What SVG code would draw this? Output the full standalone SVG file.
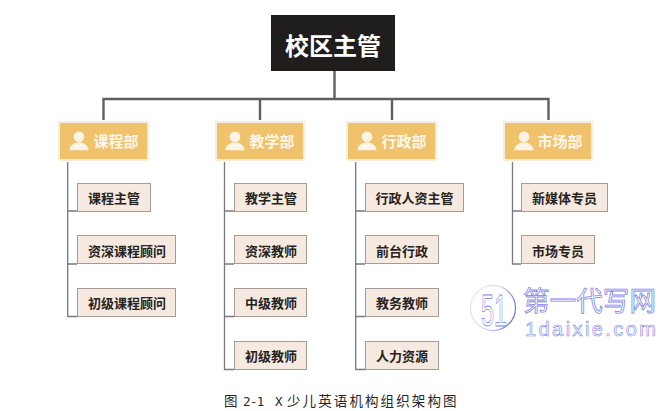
<svg xmlns="http://www.w3.org/2000/svg" width="672" height="411" viewBox="0 0 672 411">
<defs>
<linearGradient id="ring" x1="0" y1="0" x2="1" y2="0.3"><stop offset="0" stop-color="#e4e5fa"/><stop offset=".55" stop-color="#d5d6f7"/><stop offset="1" stop-color="#6f73e2"/></linearGradient>
<style>
text{font-family:"Noto Sans CJK SC","Liberation Sans",sans-serif}
.dept rect{fill:#efc26b;stroke:#f9ece0;stroke-width:2}
.dept text{fill:#fdf6ea;font-size:15px;font-weight:700;text-anchor:middle}
.sub rect{fill:#f6e9df;stroke:#a39c96;stroke-width:1}
.sub text{fill:#262422;font-size:13px;font-weight:700;text-anchor:middle}
.trunk{fill:none;stroke:#5f5f5f;stroke-width:2.4}
.spine{fill:none;stroke:#7c7a78;stroke-width:1.3}
.wm{fill:#fff;stroke:#8084e6;stroke-width:.8}
.cap{font-size:13.5px;fill:#262626;letter-spacing:2.1px}
</style>
<g id="user"><circle cx="0" cy="-4.2" r="5.4" fill="#fdf4e6"/><path d="M-9.5 9.2C-9.5 4.5-5.5 3-2.8 1.5L2.8 1.5C5.5 3 9.5 4.5 9.5 9.2Z" fill="#fdf4e6"/></g>
</defs>
<rect width="672" height="411" fill="#fff"/>
<g id="connectors">
<path class="trunk" d="M334.5 71V99M103.5 120V99H548.5V120M260 99V120M392 99V120"/>
<path class="spine" d="M67.7 162V316.5H77M67.7 211H77M67.7 264H77"/>
<path class="spine" d="M224.5 162V369.5H234M224.5 211H234M224.5 264H234M224.5 316.5H234"/>
<path class="spine" d="M355.7 162V369.5H365M355.7 211H365M355.7 264H365M355.7 316.5H365"/>
<path class="spine" d="M512.5 162V264H521M512.5 211H521"/>
</g>
<g id="root"><rect x="271" y="15" width="124" height="56" fill="#1f1e1d"/><text x="333" y="54.500" font-size="24" font-weight="700" fill="#fff" text-anchor="middle">校区主管</text></g>
<g id="dept-1" class="dept"><rect x="59" y="122" width="89" height="38"/><use href="#user" x="79" y="141"/><text x="116" y="147">课程部</text></g>
<g id="dept-2" class="dept"><rect x="216" y="122" width="88" height="38"/><use href="#user" x="235" y="141"/><text x="272" y="147">教学部</text></g>
<g id="dept-3" class="dept"><rect x="347" y="122" width="89" height="38"/><use href="#user" x="367" y="141"/><text x="404" y="147">行政部</text></g>
<g id="dept-4" class="dept"><rect x="504" y="122" width="88" height="38"/><use href="#user" x="524" y="141"/><text x="560" y="147">市场部</text></g>
<g id="sub-1-1" class="sub"><rect x="77.5" y="183.5" width="73" height="28"/><text x="114" y="203">课程主管</text></g>
<g id="sub-1-2" class="sub"><rect x="77.5" y="235.5" width="98" height="28"/><text x="127" y="256">资深课程顾问</text></g>
<g id="sub-1-3" class="sub"><rect x="77.5" y="288.5" width="98" height="28"/><text x="127" y="308">初级课程顾问</text></g>
<g id="sub-2-1" class="sub"><rect x="234.5" y="183.5" width="72" height="28"/><text x="271" y="203">教学主管</text></g>
<g id="sub-2-2" class="sub"><rect x="234.5" y="235.5" width="72" height="28"/><text x="271" y="256">资深教师</text></g>
<g id="sub-2-3" class="sub"><rect x="234.5" y="288.5" width="72" height="28"/><text x="271" y="308">中级教师</text></g>
<g id="sub-2-4" class="sub"><rect x="234.5" y="341.5" width="72" height="28"/><text x="271" y="361">初级教师</text></g>
<g id="sub-3-1" class="sub"><rect x="365.5" y="183.5" width="98" height="28"/><text x="414.5" y="203">行政人资主管</text></g>
<g id="sub-3-2" class="sub"><rect x="365.5" y="235.5" width="73" height="28"/><text x="402" y="256">前台行政</text></g>
<g id="sub-3-3" class="sub"><rect x="365.5" y="288.5" width="73" height="28"/><text x="402" y="308">教务教师</text></g>
<g id="sub-3-4" class="sub"><rect x="365.5" y="341.5" width="73" height="28"/><text x="402" y="361">人力资源</text></g>
<g id="sub-4-1" class="sub"><rect x="521.5" y="183.5" width="86" height="28"/><text x="564.5" y="203">新媒体专员</text></g>
<g id="sub-4-2" class="sub"><rect x="521.5" y="235.5" width="73" height="28"/><text x="558" y="256">市场专员</text></g>
<g id="watermark">
<circle cx="493" cy="308" r="22.5" fill="#fff" stroke="url(#ring)" stroke-width="1.2"/>
<text class="wm" x="494" y="326" font-size="44" text-anchor="middle" textLength="26" lengthAdjust="spacingAndGlyphs" style="font-family:'Liberation Sans',sans-serif">51</text>
<text class="wm" x="523" y="311" font-size="27" textLength="133" lengthAdjust="spacingAndGlyphs">第一代写网</text>
<text class="wm" x="525" y="336" font-size="20" textLength="131" lengthAdjust="spacing" style="font-family:'Liberation Sans',sans-serif;stroke-width:.6">1daixie.com</text>
</g>
<g id="caption">
<text class="cap" x="224" y="406">图</text>
<text class="cap" x="243" y="406" style="font-family:'DejaVu Sans Mono',monospace;font-size:12.500px;letter-spacing:-.6px">2-1</text>
<text class="cap" x="275" y="406" style="font-family:'DejaVu Sans Mono',monospace;font-size:12.500px">X</text>
<text class="cap" x="287" y="406">少儿英语机构组织架构图</text>
</g>
</svg>
